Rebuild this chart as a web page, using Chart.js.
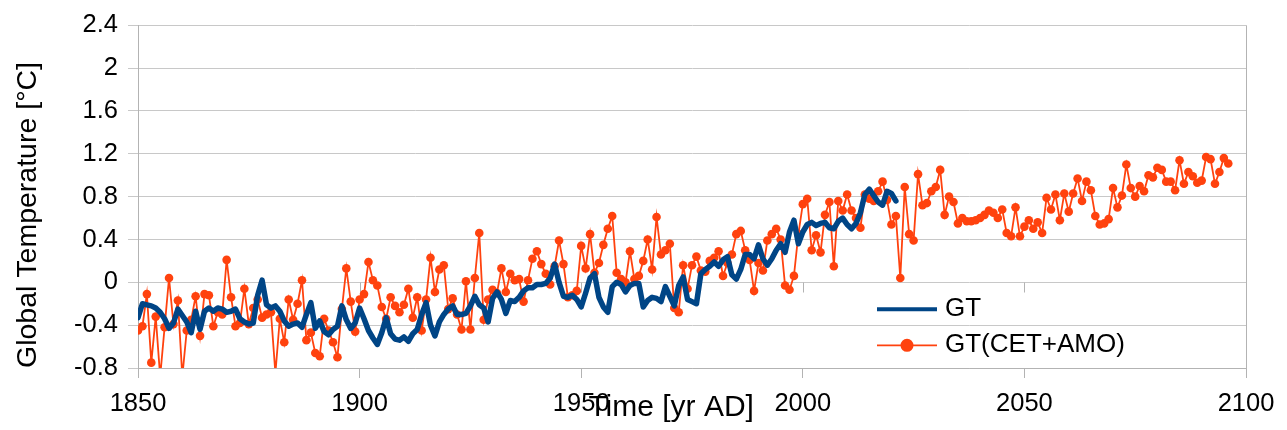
<!DOCTYPE html>
<html>
<head>
<meta charset="utf-8">
<title>Global Temperature</title>
<script src="https://cdn.jsdelivr.net/npm/chart.js@4.4.1/dist/chart.umd.min.js"></script>
<style>
  html, body { margin: 0; padding: 0; background: #fff; }
</style>
</head>
<body>
<canvas id="tempChart" width="1287" height="430"></canvas>
<script>
// Annual values, first entry = 1850
const firstYear = 1850;

// GT (1850 - 2021)
const gtValues = [
  -0.33, -0.20, -0.21, -0.22, -0.24, -0.28, -0.34, -0.43, -0.38, -0.25,
  -0.31, -0.37, -0.47, -0.27, -0.44, -0.27, -0.24, -0.27, -0.24, -0.25,
  -0.28, -0.27, -0.25, -0.34, -0.37, -0.39, -0.38, -0.12, 0.02, -0.21,
  -0.24, -0.22, -0.27, -0.36, -0.41, -0.39, -0.38, -0.42, -0.30, -0.19,
  -0.43, -0.36, -0.46, -0.49, -0.44, -0.41, -0.22, -0.35, -0.43, -0.38,
  -0.24, -0.34, -0.45, -0.52, -0.58, -0.47, -0.33, -0.48, -0.53, -0.54,
  -0.51, -0.55, -0.48, -0.44, -0.30, -0.19, -0.40, -0.50, -0.37, -0.30,
  -0.25, -0.22, -0.30, -0.30, -0.29, -0.22, -0.13, -0.21, -0.24, -0.37,
  -0.15, -0.09, -0.16, -0.29, -0.17, -0.18, -0.14, -0.08, -0.05, -0.05,
  -0.02, -0.02, -0.01, 0.04, 0.17, 0.00, -0.13, -0.14, -0.12, -0.16,
  -0.23, -0.10, 0.04, 0.08, -0.14, -0.23, -0.28, -0.04, 0.00, -0.02,
  -0.09, -0.03, -0.01, -0.01, -0.23, -0.17, -0.14, -0.15, -0.18, -0.04,
  -0.13, -0.22, -0.03, 0.05, -0.16, -0.18, -0.20, 0.08, 0.12, 0.15,
  0.19, 0.15, 0.21, 0.24, 0.07, 0.03, 0.12, 0.26, 0.26, 0.22,
  0.35, 0.22, 0.16, 0.22, 0.30, 0.36, 0.28, 0.47, 0.58, 0.36,
  0.47, 0.54, 0.56, 0.53, 0.55, 0.56, 0.51, 0.50, 0.57, 0.60,
  0.54, 0.50, 0.55, 0.65, 0.82, 0.87, 0.81, 0.75, 0.72, 0.85,
  0.83, 0.76
];

// GT(CET+AMO) (1850 - 2096)
const cetAmoValues = [
  -0.45, -0.41, -0.11, -0.75, -0.32, -0.88, -0.42, 0.04, -0.39, -0.17,
  -0.88, -0.45, -0.35, -0.13, -0.50, -0.11, -0.12, -0.41, -0.28, -0.30,
  0.21, -0.14, -0.41, -0.38, -0.06, -0.39, -0.24, -0.16, -0.33, -0.30,
  -0.28, -0.85, -0.34, -0.56, -0.16, -0.35, -0.20, 0.02, -0.54, -0.47,
  -0.66, -0.69, -0.34, -0.45, -0.56, -0.70, -0.25, 0.13, -0.18, -0.46,
  -0.16, -0.11, 0.19, 0.02, -0.03, -0.23, -0.34, -0.14, -0.22, -0.28,
  -0.21, -0.06, -0.33, -0.14, -0.45, -0.16, 0.23, -0.09, 0.12, 0.16,
  -0.25, -0.15, -0.30, -0.44, 0.01, -0.44, 0.04, 0.46, -0.35, -0.16,
  -0.07, -0.10, 0.13, -0.09, 0.08, 0.02, 0.03, -0.18, 0.02, 0.22,
  0.29, 0.17, 0.08, -0.02, 0.15, 0.39, 0.17, -0.14, -0.12, -0.08,
  0.34, 0.13, 0.45, 0.09, 0.18, 0.35, 0.50, 0.62, 0.09, 0.03,
  0.00, 0.29, 0.03, 0.06, 0.20, 0.40, 0.12, 0.61, 0.26, 0.30,
  0.36, -0.24, -0.28, 0.16, -0.06, 0.16, 0.24, 0.11, 0.10, 0.20,
  0.23, 0.29, 0.06, 0.18, 0.26, 0.45, 0.48, 0.30, 0.21, -0.08,
  0.18, 0.11, 0.39, 0.45, 0.50, 0.40, -0.03, -0.07, 0.06, 0.45,
  0.73, 0.78, 0.30, 0.44, 0.28, 0.63, 0.75, 0.15, 0.76, 0.67,
  0.82, 0.67, 0.60, 0.51, 0.82, 0.78, 0.76, 0.85, 0.94, 0.77,
  0.54, 0.62, 0.04, 0.89, 0.45, 0.39, 1.01, 0.72, 0.74, 0.85,
  0.89, 1.05, 0.63, 0.80, 0.75, 0.55, 0.60, 0.57, 0.57, 0.58,
  0.60, 0.63, 0.67, 0.65, 0.60, 0.68, 0.46, 0.43, 0.70, 0.43,
  0.52, 0.58, 0.50, 0.56, 0.46, 0.79, 0.68, 0.82, 0.58, 0.83,
  0.66, 0.83, 0.97, 0.76, 0.94, 0.86, 0.62, 0.54, 0.55, 0.59,
  0.88, 0.70, 0.81, 1.10, 0.88, 0.80, 0.90, 0.85, 1.00, 0.98,
  1.07, 1.05, 0.94, 0.94, 0.86, 1.14, 0.92, 1.03, 0.99, 0.93,
  0.95, 1.17, 1.15, 0.92, 1.03, 1.16, 1.11
];

const xTicks = [1850, 1900, 1950, 2000, 2050, 2100];
const yTicks = [-0.8, -0.4, 0, 0.4, 0.8, 1.2, 1.6, 2, 2.4];

const toPoints = vals => vals.map((v, i) => ({ x: firstYear + i, y: v }));

const FONT = '"Liberation Sans", Arial, sans-serif';
const AXIS_GREY = '#b3b3b3';

// right edge of the frame + the small year ticks hanging under the zero line
const frameBorder = {
    id: 'frameBorder',
    beforeDatasetsDraw(chart) {
        const { ctx, chartArea: a, scales } = chart;
        const y0 = Math.round(scales.y.getPixelForValue(0)) + 0.5;
        ctx.save();
        ctx.strokeStyle = AXIS_GREY;
        ctx.lineWidth = 1;
        ctx.beginPath();
        ctx.moveTo(a.right + 0.5, a.top);
        ctx.lineTo(a.right + 0.5, a.bottom);
        xTicks.forEach(v => {
            const px = Math.round(scales.x.getPixelForValue(v)) + 0.5;
            ctx.moveTo(px, y0);
            ctx.lineTo(px, y0 + 10);
        });
        ctx.stroke();
        ctx.restore();
    }
};

// legend sits inside the plot, lower right
const insideLegend = {
    id: 'insideLegend',
    afterDatasetsDraw(chart) {
        const { ctx, chartArea: a } = chart;
        const x0 = a.left + 739;
        const rows = [a.top + 284, a.top + 320];
        chart.data.datasets.forEach((ds, i) => {
            const y = rows[i];
            ctx.save();
            ctx.strokeStyle = ds.borderColor;
            ctx.lineWidth = i === 0 ? 4 : 1.8;
            ctx.beginPath();
            ctx.moveTo(x0, y);
            ctx.lineTo(x0 + 60, y);
            ctx.stroke();
            if (ds.pointRadius) {
                ctx.fillStyle = ds.borderColor;
                ctx.beginPath();
                ctx.arc(x0 + 30, y, 6.5, 0, Math.PI * 2);
                ctx.fill();
            }
            ctx.fillStyle = '#000';
            ctx.font = '26px ' + FONT;
            ctx.textBaseline = 'middle';
            ctx.fillText(ds.label, x0 + 68, y);
            ctx.restore();
        });
    }
};

const ctx = document.getElementById('tempChart').getContext('2d');

new Chart(ctx, {
    type: 'line',
    data: {
        datasets: [
            {
                label: 'GT',
                data: toPoints(gtValues),
                borderColor: '#004586',
                backgroundColor: '#004586',
                borderWidth: 5.5,
                borderJoinStyle: 'round',
                borderCapStyle: 'round',
                pointRadius: 0,
                tension: 0
            },
            {
                label: 'GT(CET+AMO)',
                data: toPoints(cetAmoValues),
                borderColor: '#ff420e',
                backgroundColor: '#ff420e',
                borderWidth: 1.8,
                pointRadius: 4.3,
                pointBorderWidth: 0,
                pointBackgroundColor: '#ff420e',
                tension: 0
            }
        ]
    },
    options: {
        responsive: false,
        animation: false,
        devicePixelRatio: 1,
        layout: {
            padding: { top: 19, right: 41, left: 0, bottom: 0 }
        },
        plugins: {
            legend: { display: false },
            tooltip: { enabled: false }
        },
        scales: {
            x: {
                type: 'linear',
                min: 1850,
                max: 2100,
                afterBuildTicks: scale => { scale.ticks = xTicks.map(v => ({ value: v })); },
                afterFit: scale => { scale.height = 62; },
                grid: {
                    drawOnChartArea: false,
                    tickLength: 10,
                    color: AXIS_GREY
                },
                border: { color: AXIS_GREY },
                ticks: {
                    color: '#000',
                    font: { family: FONT, size: 25.5 },
                    padding: 11,
                    maxRotation: 0,
                    callback: value => String(value)
                },
                title: {
                    display: true,
                    text: 'Time [yr AD]     ',
                    color: '#000',
                    font: { family: FONT, size: 30 },
                    padding: { top: 0, bottom: 4 }
                }
            },
            y: {
                min: -0.8,
                max: 2.4,
                afterBuildTicks: scale => { scale.ticks = yTicks.map(v => ({ value: v })); },
                afterFit: scale => { scale.width = 138; },
                grid: {
                    color: '#c8c8c8',
                    tickLength: 10
                },
                border: { color: AXIS_GREY },
                ticks: {
                    color: '#000',
                    font: { family: FONT, size: 25.5 },
                    padding: 10,
                    callback: value => String(Math.round(value * 10) / 10)
                },
                title: {
                    display: true,
                    align: 'start',
                    text: 'Global Temperature [°C]',
                    color: '#000',
                    font: { family: FONT, size: 28.5 },
                    padding: { top: 11, bottom: 0 }
                }
            }
        }
    },
    plugins: [frameBorder, insideLegend]
});
</script>
</body>
</html>
